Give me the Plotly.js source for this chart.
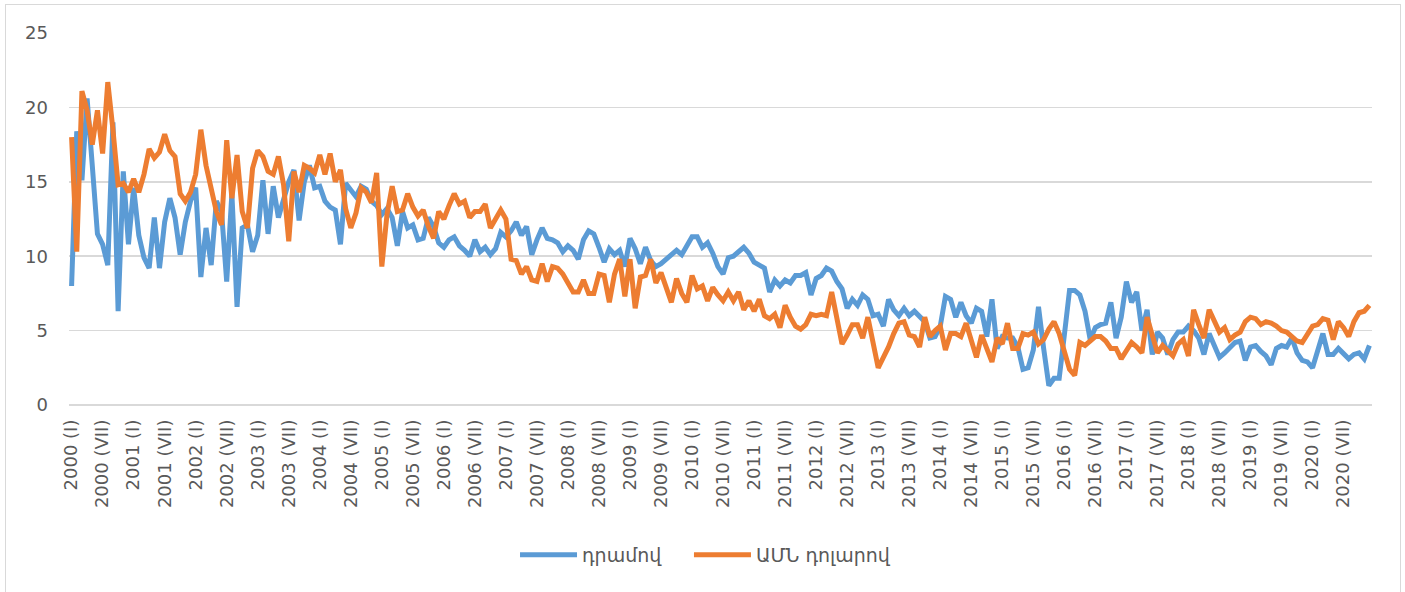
<!DOCTYPE html>
<html>
<head>
<meta charset="utf-8">
<script src="https://cdn.plot.ly/plotly-3.0.1.min.js"></script>
<style>
  html, body { margin: 0; padding: 0; background: #fff; }
  #chart { width: 1405px; height: 592px; }
  #frame { position: absolute; left: 5px; top: 4px; width: 1394px; height: 600px; border: 1px solid #d9d9d9; pointer-events: none; }
</style>
</head>
<body>
<div id="chart"></div>
<div id="frame"></div>
<script>
// months labelled with roman numerals, one point per month 2000-2020
const years = [2000, 2001, 2002, 2003, 2004, 2005, 2006, 2007, 2008, 2009, 2010,
               2011, 2012, 2013, 2014, 2015, 2016, 2017, 2018, 2019, 2020];
const months = ['I', 'II', 'III', 'IV', 'V', 'VI', 'VII', 'VIII', 'IX', 'X', 'XI', 'XII'];
const tickMonths = ['I', 'VII'];

// interest rate in drams (blue)
const dramValues = [
  8.0, 18.4, 15.1, 20.6, 16.1, 11.5, 10.8, 9.4, 19.0, 6.3,
  15.7, 10.8, 14.6, 11.4, 9.9, 9.2, 12.6, 9.2, 12.3, 13.9,
  12.6, 10.1, 12.3, 13.7, 14.6, 8.6, 11.9, 9.4, 13.7, 13.0,
  8.3, 14.2, 6.6, 11.9, 12.1, 10.3, 11.4, 15.1, 11.5, 14.7,
  12.6, 13.7, 15.0, 15.8, 12.4, 15.0, 16.1, 14.6, 14.7, 13.7,
  13.3, 13.1, 10.8, 14.9, 14.5, 14.0, 14.7, 14.5, 13.7, 13.4,
  12.8, 13.2, 12.6, 10.7, 13.0, 11.9, 12.1, 11.1, 11.2, 12.6,
  12.0, 10.9, 10.6, 11.1, 11.3, 10.7, 10.4, 10.0, 11.1, 10.3,
  10.6, 10.1, 10.5, 11.6, 11.3, 11.7, 12.3, 11.4, 12.0, 10.1,
  11.1, 11.9, 11.2, 11.1, 10.9, 10.3, 10.7, 10.4, 9.8, 11.1,
  11.7, 11.5, 10.6, 9.6, 10.5, 10.1, 10.4, 9.3, 11.2, 10.5,
  9.5, 10.6, 9.7, 9.3, 9.5, 9.8, 10.0, 10.4, 10.1, 10.7,
  11.3, 11.3, 10.6, 10.9, 10.2, 9.3, 8.8, 9.9, 10.0, 10.3,
  10.6, 10.2, 9.6, 9.4, 9.2, 7.6, 8.4, 8.0, 8.4, 8.2,
  8.7, 8.7, 8.9, 7.4, 8.5, 8.7, 9.2, 9.0, 8.3, 7.8,
  6.5, 7.1, 6.7, 7.4, 7.1, 6.0, 6.1, 5.3, 7.1, 6.4,
  6.0, 6.5, 6.0, 6.3, 6.0, 5.6, 4.5, 4.6, 5.3, 7.3,
  7.1, 5.9, 6.9, 6.0, 5.5, 6.5, 6.3, 4.6, 7.1, 3.8,
  4.6, 4.5, 4.5, 3.9, 2.4, 2.5, 3.7, 6.6, 3.8, 1.3,
  1.8, 1.8, 4.7, 7.7, 7.7, 7.4, 6.3, 4.4, 5.2, 5.4,
  5.5, 6.9, 4.5, 5.9, 8.3, 6.9, 7.6, 5.0, 6.4, 3.4,
  4.9, 4.5, 3.4, 4.4, 4.9, 4.9, 5.3, 5.0, 4.5, 3.4,
  4.8, 3.9, 3.2, 3.5, 3.8, 4.2, 4.3, 3.0, 3.9, 4.0,
  3.6, 3.3, 2.7, 3.8, 4.0, 3.9, 4.5, 3.5, 3.0, 2.9,
  2.5, 3.6, 4.8, 3.4, 3.4, 3.8, 3.4, 3.1, 3.4, 3.5,
  3.1, 4.0
];

// interest rate in US dollars (orange)
const usdValues = [
  18.0, 10.3, 21.1, 19.8, 17.5, 19.8, 16.9, 21.7, 18.5, 14.8,
  14.9, 14.3, 15.2, 14.3, 15.5, 17.2, 16.6, 17.0, 18.2, 17.1,
  16.7, 14.2, 13.7, 14.3, 15.5, 18.5, 16.1, 14.6, 13.0, 12.1,
  17.8, 13.9, 16.8, 13.0, 11.9, 15.9, 17.1, 16.7, 15.7, 15.5,
  16.7, 14.8, 11.0, 15.7, 14.3, 16.1, 15.9, 15.6, 16.8, 15.5,
  16.9, 15.0, 15.8, 13.2, 11.9, 12.9, 14.6, 14.3, 13.6, 15.6,
  9.3, 12.8, 14.7, 13.0, 13.1, 14.2, 13.3, 12.7, 13.1, 12.0,
  11.2, 13.0, 12.5, 13.4, 14.2, 13.5, 13.7, 12.6, 13.0, 13.0,
  13.5, 11.9, 12.5, 13.1, 12.5, 9.8, 9.7, 8.8, 9.3, 8.4,
  8.3, 9.5, 8.3, 9.3, 9.2, 8.8, 8.2, 7.6, 7.6, 8.4,
  7.5, 7.5, 8.8, 8.7, 6.9, 8.8, 9.8, 7.3, 9.8, 6.5,
  8.6, 8.7, 9.8, 8.2, 8.9, 7.9, 6.9, 8.5, 7.5, 6.9,
  8.7, 7.8, 8.0, 7.0, 7.9, 7.4, 7.0, 7.6, 7.0, 7.6,
  6.4, 7.0, 6.3, 7.1, 6.0, 5.8, 6.1, 5.2, 6.7, 5.9,
  5.3, 5.1, 5.4, 6.1, 6.0, 6.1, 6.0, 7.6, 5.7, 4.1,
  4.7, 5.4, 5.4, 4.5, 5.9, 4.2, 2.5, 3.2, 3.9, 4.8,
  5.5, 5.6, 4.7, 4.6, 3.9, 5.9, 4.6, 5.0, 5.3, 3.7,
  4.8, 4.8, 4.6, 5.5, 4.4, 3.2, 4.7, 3.7, 2.9, 4.5,
  4.1, 5.5, 3.8, 3.8, 4.8, 4.7, 4.9, 4.1, 4.4, 5.1,
  5.6, 4.8, 3.5, 2.4, 2.0, 4.2, 4.0, 4.3, 4.6, 4.6,
  4.3, 3.8, 3.8, 3.1, 3.6, 4.2, 3.9, 3.5, 5.9, 4.7,
  3.5, 4.0, 3.7, 3.3, 4.1, 4.4, 3.3, 6.4, 5.4, 4.5,
  6.4, 5.7, 4.9, 5.2, 4.4, 4.7, 4.9, 5.6, 5.9, 5.8,
  5.4, 5.6, 5.5, 5.3, 5.0, 4.9, 4.6, 4.3, 4.2, 4.7,
  5.3, 5.4, 5.8, 5.7, 4.4, 5.6, 5.2, 4.6, 5.6, 6.2,
  6.3, 6.7
];

const seriesNames = ['դրամով', 'ԱՄՆ դոլարով'];
const seriesColors = ['#5B9BD5', '#ED7D31'];
const legendIds = ['legend', 'legend2'];

// build the category labels, e.g. "2003 (VII)"
const categories = [];
const tickLabels = [];
years.forEach(y => {
    months.forEach(m => {
        const label = `${y} (${m})`;
        categories.push(label);
        if (tickMonths.includes(m)) tickLabels.push(label);
    });
});

const textFont = { family: 'DejaVu Sans, Arial, sans-serif', size: 18, color: '#595959' };
const legendFont = { family: textFont.family, size: 19, color: '#595959' };

const traces = [dramValues, usdValues].map((vals, k) => ({
    x: categories,
    y: vals,
    type: 'scatter',
    mode: 'lines',
    name: seriesNames[k],
    legend: legendIds[k],
    line: { color: seriesColors[k], width: 5 },
    hoverinfo: 'skip'
}));

// one small legend box per series so the gap between them can match the original
const legendBox = x => ({
    orientation: 'h',
    x: x,
    xanchor: 'left',
    y: -0.403,
    yanchor: 'middle',
    font: legendFont,
    itemwidth: 57
});

const layout = {
    width: 1405,
    height: 592,
    margin: { l: 69, r: 33, t: 33, b: 187 },
    paper_bgcolor: '#ffffff',
    plot_bgcolor: '#ffffff',
    font: textFont,
    showlegend: true,
    legend: legendBox(0.3423),
    legend2: legendBox(0.4758),
    xaxis: {
        type: 'category',
        range: [-0.5, categories.length - 0.5],
        tickmode: 'array',
        tickvals: tickLabels,
        ticktext: tickLabels,
        tickangle: -90,
        tickfont: textFont,
        ticklabelstandoff: 10,
        showgrid: false,
        zeroline: false,
        showline: false
    },
    yaxis: {
        range: [0, 25],
        dtick: 5,
        tickfont: textFont,
        ticklabelstandoff: 20,
        showgrid: true,
        gridcolor: '#d9d9d9',
        gridwidth: 1.5,
        zeroline: true,
        zerolinecolor: '#d9d9d9',
        zerolinewidth: 1.5,
        showline: false
    }
};

Plotly.newPlot('chart', traces, layout, { displayModeBar: false, staticPlot: true });
</script>
</body>
</html>
